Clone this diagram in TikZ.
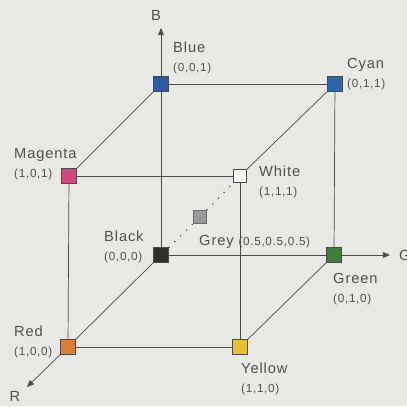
\documentclass[tikz,border=0pt]{standalone}
\usepackage{fontspec}
\setmainfont{Liberation Sans}[LetterSpace=6]
\usepackage{tikz}
\usetikzlibrary{positioning, arrows.meta}

\definecolor{bggray}{HTML}{E8E8E4}
\definecolor{inkgray}{HTML}{4A4A4A}
\definecolor{labelgray}{HTML}{505050}
\definecolor{cblack}{HTML}{2E302D}
\definecolor{cblue}{HTML}{2D5AA5}
\definecolor{ccyan}{HTML}{2C64AE}
\definecolor{cmagenta}{HTML}{D2487C}
\definecolor{cred}{HTML}{E07B35}
\definecolor{cyellow}{HTML}{E6C02E}
\definecolor{cgreen}{HTML}{3E7D3A}
\definecolor{cgrey}{HTML}{9A9A9A}

\begin{document}
\begin{tikzpicture}[x=0.03cm, y=-0.03cm,
			corner/.style={draw=inkgray, line width=0.4pt, minimum size=0.45cm, inner sep=0pt},
			edge/.style={draw=inkgray, line width=0.6pt},
			axis/.style={edge, -{Triangle[length=6pt, width=5pt]}},
			lbl/.style={text=labelgray, inner sep=0pt, align=left, anchor=north west,
				font=\fontsize{12.5}{16}\selectfont},
			axlbl/.style={text=labelgray, inner sep=0pt, font=\fontsize{12.5}{15}\selectfont}]
			\newcommand{\crd}[1]{{\fontsize{10}{16}\selectfont #1}}
			\useasboundingbox[fill=bggray] (0,0) rectangle (407,406);
			% cube corners
			\node[corner, fill=cblack] (black) at (161,255) {};
			\node[corner, fill=cblue] (blue) at (161,84) {};
			\node[corner, fill=ccyan] (cyan) at (335,84) {};
			\node[corner, fill=cgreen] (green) at (334,255) {};
			\node[corner, fill=cmagenta] (magenta) at (69,176) {};
			\node[corner, fill=white, minimum size=0.4cm] (white) at (240,176) {};
			\node[corner, fill=cred] (red) at (68,347) {};
			\node[corner, fill=cyellow] (yellow) at (240,347) {};
			\node[corner, fill=cgrey, draw=cgrey!70!black, minimum size=0.4cm] (grey) at (200,217) {};
			% axis ends
			\coordinate (bTip) at (161,28);
			\coordinate (gTip) at (390,255);
			\coordinate (rTip) at (27,387);
			% edges
			\draw[edge] (magenta) -- (blue);
			\draw[edge] (blue) -- (cyan);
			\draw[edge] (cyan) -- (white);
			\draw[edge] (magenta) -- (white);
			\draw[edge] (magenta) -- (red);
			\draw[edge] (red) -- (yellow);
			\draw[edge] (yellow) -- (white);
			\draw[edge] (yellow) -- (green);
			\draw[edge] (cyan) -- (green);
			\draw[edge] (black) -- (blue);
			\draw[edge] (black) -- (green);
			\draw[edge] (black) -- (red);
			\draw[axis] (blue) -- (bTip);
			\draw[axis] (green) -- (gTip);
			\draw[axis] (red) -- (rTip);
			\draw[inkgray, line width=1.1pt, dash pattern=on 0.9pt off 6pt] (black) -- (grey) -- (white);
			% axis names
			\node[axlbl] (bName) at (156,15) {B};
			\node[axlbl, anchor=west] (gName) at (399,255) {G};
			\node[axlbl] (rName) at (15,396) {R};
			% corner names
			\node[lbl] (blueName) at (173,42) {Blue\\\crd{(0,0,1)}};
			\node[lbl, anchor=west] (cyanName) at (347,74) {Cyan\\\crd{(0,1,1)}};
			\node[lbl] (magentaName) at (14,148) {Magenta\\\crd{(1,0,1)}};
			\node[lbl] (whiteName) at (259,166) {White\\\crd{(1,1,1)}};
			\node[lbl] (blackName) at (104,231) {Black\\\crd{(0,0,0)}};
			\node[lbl] (greyName) at (199,235) {Grey \crd{(0.5,0.5,0.5)}};
			\node[lbl] (greenName) at (333,273) {Green\\\crd{(0,1,0)}};
			\node[lbl] (redName) at (14,326) {Red\\\crd{(1,0,0)}};
			\node[lbl] (yellowName) at (241,363) {Yellow\\\crd{(1,1,0)}};
		\end{tikzpicture}
\end{document}
